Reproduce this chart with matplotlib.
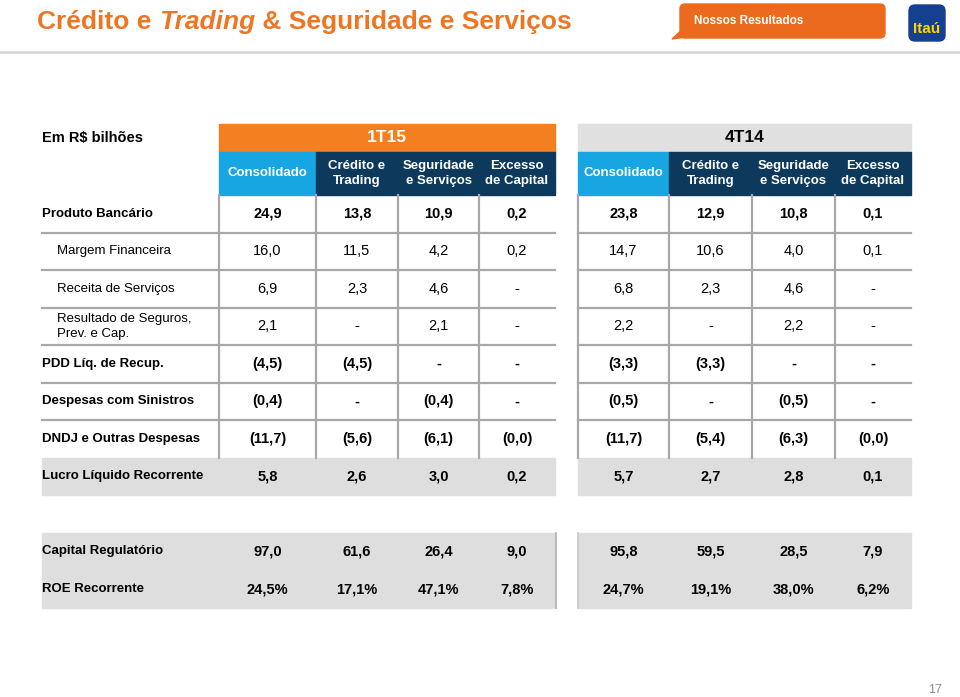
import matplotlib.pyplot as plt
from matplotlib.patches import Rectangle, FancyBboxPatch, Polygon

plt.rcParams['font.family'] = ['Liberation Sans', 'DejaVu Sans']

# ---- data ----
periods = ["1T15", "4T14"]
col_headers = ["Consolidado", "Crédito e\nTrading", "Seguridade\ne Serviços", "Excesso\nde Capital"]

row_labels = ["Produto Bancário", "Margem Financeira", "Receita de Serviços",
              "Resultado de Seguros,\nPrev. e Cap.", "PDD Líq. de Recup.",
              "Despesas com Sinistros", "DNDJ e Outras Despesas",
              "Lucro Líquido Recorrente"]
row_bold = [True, False, False, False, True, True, True, True]

vals_1t15 = [
    ["24,9", "13,8", "10,9", "0,2"],
    ["16,0", "11,5", "4,2", "0,2"],
    ["6,9", "2,3", "4,6", "-"],
    ["2,1", "-", "2,1", "-"],
    ["(4,5)", "(4,5)", "-", "-"],
    ["(0,4)", "-", "(0,4)", "-"],
    ["(11,7)", "(5,6)", "(6,1)", "(0,0)"],
    ["5,8", "2,6", "3,0", "0,2"],
]
vals_4t14 = [
    ["23,8", "12,9", "10,8", "0,1"],
    ["14,7", "10,6", "4,0", "0,1"],
    ["6,8", "2,3", "4,6", "-"],
    ["2,2", "-", "2,2", "-"],
    ["(3,3)", "(3,3)", "-", "-"],
    ["(0,5)", "-", "(0,5)", "-"],
    ["(11,7)", "(5,4)", "(6,3)", "(0,0)"],
    ["5,7", "2,7", "2,8", "0,1"],
]

bottom_labels = ["Capital Regulatório", "ROE Recorrente"]
capital_1t15 = ["97,0", "61,6", "26,4", "9,0"]
roe_1t15 = ["24,5%", "17,1%", "47,1%", "7,8%"]
capital_4t14 = ["95,8", "59,5", "28,5", "7,9"]
roe_4t14 = ["24,7%", "19,1%", "38,0%", "6,2%"]

# ---- style ----
ORANGE = '#EE7623'
BAND_OR = '#F47F20'
LBLUE = '#17A6E2'
NAVY = '#0D3A5C'
LGRAY = '#E0E0E0'
GRID = '#A8A8A8'

fig = plt.figure(figsize=(9.6, 6.97), dpi=100)
ax = fig.add_axes([0, 0, 1, 1])
ax.set_xlim(0, 960)
ax.set_ylim(697, 0)
ax.axis('off')
renderer = fig.canvas.get_renderer()

# title with italic part
x = 37
for part, st in [("Crédito e ", 'normal'), ("Trading", 'italic'),
                 (" & Seguridade e Serviços", 'normal')]:
    t = ax.text(x, 22, part, fontsize=19, fontweight='bold', style=st,
                color=ORANGE, va='center', ha='left')
    x += t.get_window_extent(renderer).width

# header bubble + logo
ax.add_patch(Polygon([(684, 28), (672, 39), (694, 36)], color='#EB6A1E', zorder=2))
ax.add_patch(FancyBboxPatch((680, 4), 205, 34, boxstyle="round,pad=0,rounding_size=5",
                            color='#EB6A1E', zorder=2))
ax.text(694, 21, "Nossos Resultados", color='white', fontsize=8.5,
        fontweight='bold', va='center', zorder=3)
ax.add_patch(FancyBboxPatch((909, 5), 36, 36, boxstyle="round,pad=0,rounding_size=6",
                            color='#153F8F', zorder=2))
ax.text(927, 29, "Itaú", color='#FFD200', fontsize=11, fontweight='bold',
        ha='center', va='center', zorder=3)
ax.plot([0, 960], [52, 52], color='#D5D5D5', lw=1.8)

# table geometry
edges = {"1T15": [219, 316, 398, 479, 555], "4T14": [578, 669, 752, 835, 911]}
band_colors = {"1T15": (BAND_OR, 'white'), "4T14": (LGRAY, 'black')}
values = {"1T15": vals_1t15, "4T14": vals_4t14}
bottom_vals = {"1T15": [capital_1t15, roe_1t15], "4T14": [capital_4t14, roe_4t14]}
row_top, row_h = 195, 37.5
n_rows = len(row_labels)

ax.text(42, 138, "Em R$ bilhões", fontsize=10.5, fontweight='bold', va='center')

for i, lab in enumerate(row_labels):
    yc = row_top + (i + 0.5) * row_h
    xl = 42 if row_bold[i] else 57
    ax.text(xl, yc, lab, fontsize=9.5, fontweight='bold' if row_bold[i] else 'normal',
            va='center', ha='left', linespacing=1.3)

# gray row for Lucro
lucro_y = row_top + (n_rows - 1) * row_h
ax.add_patch(Rectangle((42, lucro_y), 555 - 42, row_h, color='#DEDEDE', zorder=0))
ax.add_patch(Rectangle((578, lucro_y), 911 - 578, row_h, color='#DEDEDE', zorder=0))

# horizontal lines
for i in range(1, n_rows - 1):
    y = row_top + i * row_h
    ax.plot([42, 555], [y, y], color=GRID, lw=1.6, zorder=1)
    ax.plot([578, 911], [y, y], color=GRID, lw=1.6, zorder=1)

for p in periods:
    e = edges[p]
    bc, tc = band_colors[p]
    ax.add_patch(Rectangle((e[0], 124), e[-1] - e[0], 28, color=bc, zorder=1))
    ax.text((e[0] + e[-1]) / 2, 138, p, color=tc, fontsize=12.5, fontweight='bold',
            ha='center', va='center')
    ax.add_patch(Rectangle((e[0], 152), e[1] - e[0], 43, color=LBLUE, zorder=1))
    ax.add_patch(Rectangle((e[1], 152), e[-1] - e[1], 43, color=NAVY, zorder=1))
    for j, h in enumerate(col_headers):
        ax.text((e[j] + e[j + 1]) / 2, 173.5, h, color='white', fontsize=9.5,
                fontweight='bold', ha='center', va='center', linespacing=1.25)
    # vertical lines
    for xv in e[:-1]:
        ax.plot([xv, xv], [row_top, lucro_y], color=GRID, lw=1.6, zorder=1)
    # values
    for i, row in enumerate(values[p]):
        yc = row_top + (i + 0.5) * row_h
        for j, v in enumerate(row):
            ax.text((e[j] + e[j + 1]) / 2, yc, v, fontsize=10.5,
                    fontweight='bold' if row_bold[i] else 'normal',
                    ha='center', va='center')

# bottom table
ax.add_patch(Rectangle((42, 533), 555 - 42, 75, color='#DEDEDE', zorder=0))
ax.add_patch(Rectangle((578, 533), 911 - 578, 75, color='#DEDEDE', zorder=0))
ax.plot([556, 556], [533, 608], color='#B0B0B0', lw=1.2)
ax.plot([578, 578], [533, 608], color='#C8C8C8', lw=1.2)
for k, lab in enumerate(bottom_labels):
    yc = 551 + k * 38
    ax.text(42, yc, lab, fontsize=9.5, fontweight='bold', va='center')
    for p in periods:
        e = edges[p]
        for j, v in enumerate(bottom_vals[p][k]):
            ax.text((e[j] + e[j + 1]) / 2, yc, v, fontsize=10.5, fontweight='bold',
                    ha='center', va='center')

ax.text(935, 690, "17", color='#8C8C8C', fontsize=9, ha='center', va='center')

fig.savefig("out.png", dpi=100)
